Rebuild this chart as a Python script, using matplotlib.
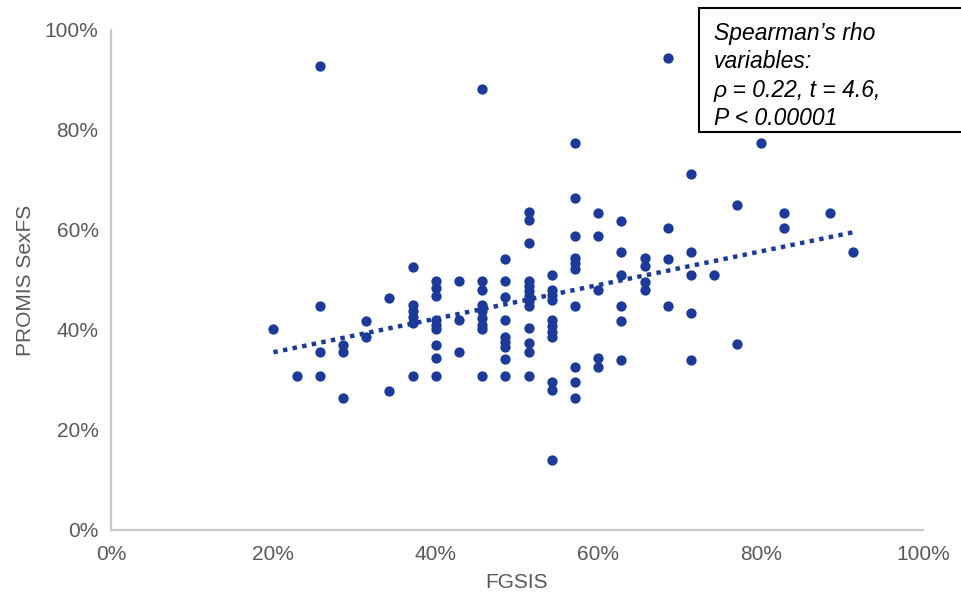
import numpy as np
import matplotlib.pyplot as plt
from matplotlib.patches import Rectangle
from matplotlib.ticker import PercentFormatter

plt.rcParams['font.family'] = ['Liberation Sans', 'DejaVu Sans']

# FGSIS is a score out of 35, so each column sits at k/35
fgsis_k = [7, 8, 9, 10, 11, 12, 13, 14, 15, 16, 17, 18, 19, 20, 21, 22, 23, 24, 25, 26, 27, 28, 29, 31, 32]
sexfs_cols = [
    [40.2],
    [30.8],
    [92.8, 44.8, 35.6, 30.8],
    [37.0, 35.6, 26.4],
    [41.8, 38.6],
    [46.4, 27.8],
    [52.6, 45.0, 43.8, 42.6, 41.4, 30.8],
    [49.7, 48.4, 46.7, 42.0, 41.0, 40.2, 37.0, 34.4, 30.8],
    [49.7, 42.0, 35.6],
    [88.2, 49.7, 48.0, 45.0, 43.7, 42.4, 41.0, 40.2, 30.8],
    [54.2, 49.7, 46.5, 42.0, 38.6, 37.6, 36.6, 34.2, 30.8],
    [63.6, 62.0, 57.4, 49.7, 48.7, 47.7, 46.7, 45.7, 44.7, 40.4, 37.4, 35.6, 30.8],
    [51.0, 48.0, 47.0, 46.0, 42.0, 40.8, 39.6, 38.6, 29.6, 28.0, 14.0],
    [77.4, 66.4, 58.8, 54.4, 53.3, 52.2, 44.8, 32.6, 29.6, 26.4],
    [63.4, 58.8, 48.0, 34.4, 32.6],
    [61.8, 55.6, 51.0, 44.8, 41.8, 34.0],
    [54.4, 52.8, 49.6, 48.0],
    [94.4, 60.4, 54.2, 44.8],
    [71.2, 55.6, 51.0, 43.4, 34.0],
    [51.0],
    [65.0, 37.2],
    [77.4],
    [63.4, 60.4],
    [63.4],
    [55.6],
]
stats_lines = ["Spearman\u2019s rho", "variables:", "\u03c1 = 0.22, t = 4.6,", "P < 0.00001"]

x = np.concatenate([[k / 35 * 100] * len(c) for k, c in zip(fgsis_k, sexfs_cols)])
y = np.concatenate(sexfs_cols)

blue = '#1B3A9A'
grey = '#595959'

fig = plt.figure(figsize=(9.62, 5.99), dpi=100)
ax = fig.add_axes([0.1154, 0.1152, 0.8441, 0.8348])

ax.scatter(x, y, s=55, color=blue, zorder=3, linewidths=0)

# linear trendline
m, b = np.polyfit(x, y, 1)
xt = np.array([x.min(), x.max()])
ax.plot(xt, m * xt + b, color=blue, lw=3.2, linestyle=(0, (1, 1.2)), zorder=2)

ax.set_xlim(0, 100)
ax.set_ylim(0, 100)
ax.set_xticks(np.arange(0, 101, 20))
ax.set_yticks(np.arange(0, 101, 20))
ax.xaxis.set_major_formatter(PercentFormatter(decimals=0))
ax.yaxis.set_major_formatter(PercentFormatter(decimals=0))
ax.tick_params(length=0, labelsize=15, labelcolor=grey)
ax.tick_params(axis='x', pad=11)
ax.tick_params(axis='y', pad=9)
for s in ['top', 'right']:
    ax.spines[s].set_visible(False)
for s in ['left', 'bottom']:
    ax.spines[s].set_color('#C8C8C8')
    ax.spines[s].set_linewidth(1.6)

ax.set_xlabel('FGSIS', fontsize=15, color=grey, labelpad=6)
ax.set_ylabel('PROMIS SexFS', fontsize=15, color=grey, labelpad=7)

# stats box running off the right edge
fig.patches.append(Rectangle((0.7266, 0.7796), 0.3, 0.207, transform=fig.transFigure,
                             fill=True, facecolor='white', edgecolor='black', lw=1.5))
fig.text(0.742, 1 - 22 / 599, "\n".join(stats_lines), fontsize=16.5, style='italic',
         va='top', ha='left', color='black', linespacing=1.3)

fig.savefig('out.png', dpi=100)
